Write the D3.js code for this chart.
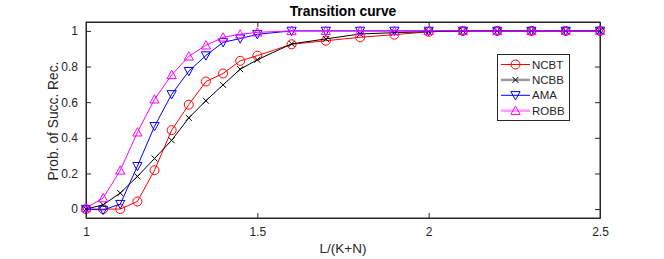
<!doctype html>
<html lang="en">
<head>
  <meta charset="utf-8">
  <script src="https://d3js.org/d3.v7.min.js"></script>
  <style>
    body { margin: 0; background: #fff; }
    text { font-family: "Liberation Sans", Arial, sans-serif; fill: #262626; }
  </style>
</head>
<body>
  <div id="chart"></div>
  <script>
    // x positions of the samples
    var ratios = [1, 1.05, 1.1, 1.15, 1.2, 1.25, 1.3, 1.35, 1.4, 1.45, 1.5,
                  1.6, 1.7, 1.8, 1.9, 2.0, 2.1, 2.2, 2.3, 2.4, 2.5];

    var ncbt = [0, 0, 0, 0.043, 0.218, 0.443, 0.586, 0.716, 0.761, 0.832, 0.861,
                0.925, 0.945, 0.964, 0.979, 0.995, 1, 1, 1, 1, 1];
    var ncbb = [0, 0.024, 0.09, 0.183, 0.284, 0.386, 0.512, 0.608, 0.697, 0.785, 0.838,
                0.927, 0.955, 0.983, 0.99, 0.996, 1, 1, 1, 1, 1];
    var ama  = [0, -0.005, 0.028, 0.241, 0.465, 0.644, 0.774, 0.862, 0.936, 0.957, 0.981,
                1, 1, 1, 1, 1, 1, 1, 1, 1, 1];
    var robb = [0.006, 0.062, 0.217, 0.431, 0.616, 0.753, 0.857, 0.919, 0.964, 0.981, 0.992,
                1, 1, 1, 1, 1, 1, 1, 1, 1, 1];

    var xTicks = [1, 1.5, 2, 2.5];
    var yTicks = [0, 0.2, 0.4, 0.6, 0.8, 1];

    var series = [
      {name: "NCBT", values: ncbt, color: "#ff0000", marker: "circle",   legendStroke: "#ff0000", legendWidth: 1},
      {name: "NCBB", values: ncbb, color: "#000000", marker: "cross",    legendStroke: "#9a9a9a", legendWidth: 2.5},
      {name: "AMA",  values: ama,  color: "#0000ff", marker: "triDown",  legendStroke: "#0000ff", legendWidth: 1},
      {name: "ROBB", values: robb, color: "#ff00ff", marker: "triUp",    legendStroke: "#ff99ff", legendWidth: 2.5}
    ];

    var W = 664, H = 259;
    var pl = 86, pr = 600, pt = 22, pb = 218;

    var svg = d3.select("#chart").append("svg")
      .attr("width", W).attr("height", H);

    var x = d3.scaleLinear().domain([1, 2.5]).range([pl, pr]);
    var y = d3.scaleLinear().domain([-0.05, 1.05]).range([pb, pt]);

    // axes box with inward ticks on all four sides
    var fmt = function(d) { return d3.format("")(d); };
    svg.append("g").attr("transform", "translate(0," + pb + ")")
      .call(d3.axisBottom(x).tickValues(xTicks).tickSizeInner(-5).tickSizeOuter(0).tickPadding(9).tickFormat(fmt));
    svg.append("g").attr("transform", "translate(0," + pt + ")")
      .call(d3.axisTop(x).tickValues(xTicks).tickSizeInner(-5).tickSizeOuter(0).tickFormat(""));
    svg.append("g").attr("transform", "translate(" + pl + ",0)")
      .call(d3.axisLeft(y).tickValues(yTicks).tickSizeInner(-5).tickSizeOuter(0).tickPadding(8).tickFormat(fmt));
    svg.append("g").attr("transform", "translate(" + pr + ",0)")
      .call(d3.axisRight(y).tickValues(yTicks).tickSizeInner(-5).tickSizeOuter(0).tickFormat(""));

    svg.selectAll(".domain").attr("stroke", "#262626");
    svg.selectAll(".tick line").attr("stroke", "#262626");
    svg.selectAll(".tick text").style("font-size", "12px").attr("fill", "#262626");

    svg.append("rect")
      .attr("x", pl).attr("y", pt)
      .attr("width", pr - pl).attr("height", pb - pt)
      .attr("fill", "none").attr("stroke", "#262626").attr("stroke-width", 1);

    function drawMarker(g, type, cx, cy, color) {
      if (type === "circle") {
        g.append("circle").attr("cx", cx).attr("cy", cy).attr("r", 4.5)
          .attr("fill", "none").attr("stroke", color);
      } else if (type === "cross") {
        var s = 3;
        g.append("path")
          .attr("d", "M" + (cx - s) + "," + (cy - s) + "L" + (cx + s) + "," + (cy + s) +
                     "M" + (cx - s) + "," + (cy + s) + "L" + (cx + s) + "," + (cy - s))
          .attr("stroke", color).attr("fill", "none");
      } else if (type === "triDown") {
        var a = 4.6;
        g.append("path")
          .attr("d", "M" + (cx - a) + "," + (cy - a * 0.8) + "L" + (cx + a) + "," + (cy - a * 0.8) +
                     "L" + cx + "," + (cy + a) + "Z")
          .attr("stroke", color).attr("fill", "none");
      } else {
        var b = 4.6;
        g.append("path")
          .attr("d", "M" + (cx - b) + "," + (cy + b * 0.8) + "L" + (cx + b) + "," + (cy + b * 0.8) +
                     "L" + cx + "," + (cy - b) + "Z")
          .attr("stroke", color).attr("fill", "none");
      }
    }

    var line = d3.line()
      .x(function(d) { return x(d[0]); })
      .y(function(d) { return y(d[1]); });

    series.forEach(function(s) {
      var pts = ratios.map(function(r, i) { return [r, s.values[i]]; });
      var g = svg.append("g");
      g.append("path").datum(pts).attr("d", line)
        .attr("fill", "none").attr("stroke", s.color).attr("stroke-width", 1);
      pts.forEach(function(p) { drawMarker(g, s.marker, x(p[0]), y(p[1]), s.color); });
    });

    // legend
    var lg = svg.append("g");
    lg.append("rect").attr("x", 497.5).attr("y", 54.5).attr("width", 72).attr("height", 66)
      .attr("fill", "#fff").attr("stroke", "#262626").attr("stroke-width", 1);
    series.forEach(function(s, i) {
      var ly = 64.5 + i * 15.4;
      lg.append("line").attr("x1", 501).attr("x2", 530).attr("y1", ly).attr("y2", ly)
        .attr("stroke", s.legendStroke).attr("stroke-width", s.legendWidth);
      drawMarker(lg, s.marker, 515.5, ly, s.color);
      lg.append("text").attr("x", 532).attr("y", ly + 4)
        .style("font-size", "11.5px").text(s.name);
    });

    // title and axis labels
    svg.append("text").attr("x", (pl + pr) / 2).attr("y", 16)
      .attr("text-anchor", "middle").style("font-size", "13.8px").style("font-weight", "bold")
      .style("fill", "#000").text("Transition curve");
    svg.append("text").attr("x", (pl + pr) / 2).attr("y", 253)
      .attr("text-anchor", "middle").style("font-size", "13.5px").text("L/(K+N)");
    svg.append("text")
      .attr("transform", "translate(58," + ((pt + pb) / 2 + 1) + ") rotate(-90)")
      .attr("text-anchor", "middle").style("font-size", "13.8px").text("Prob. of Succ. Rec.");
  </script>
</body>
</html>
